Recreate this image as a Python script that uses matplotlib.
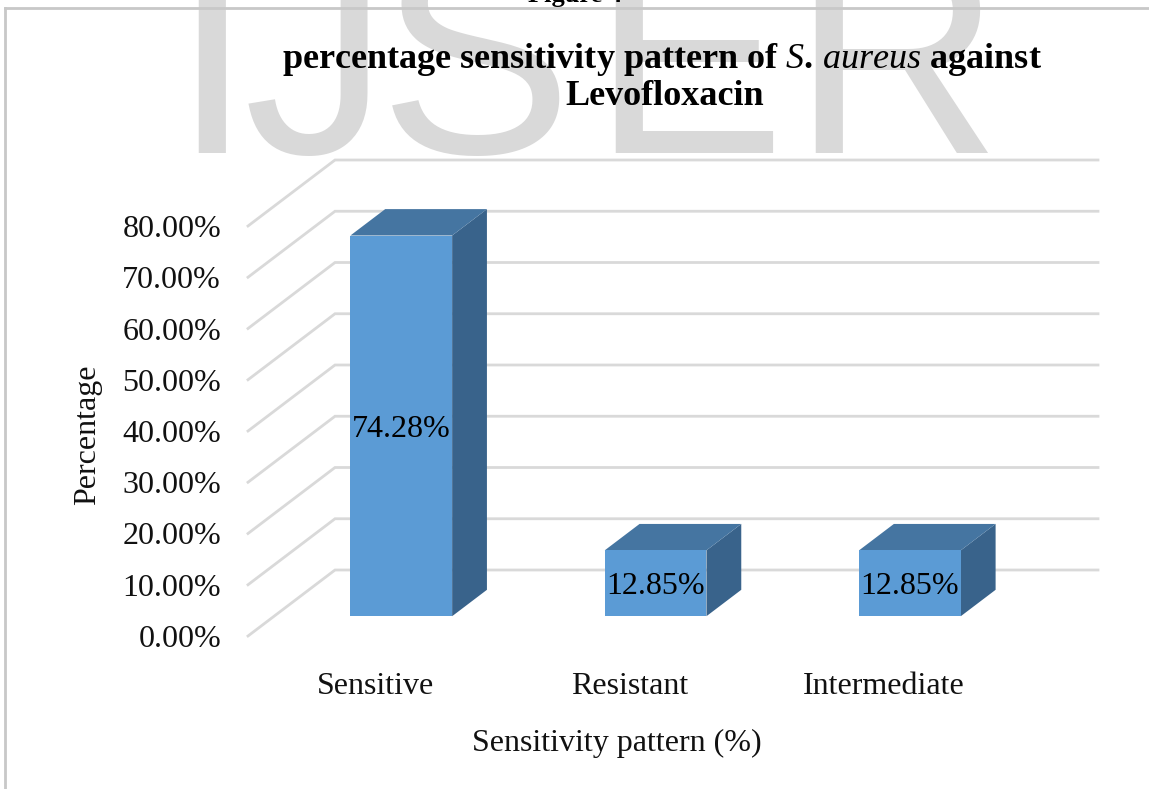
import matplotlib
matplotlib.use("Agg")
import matplotlib.pyplot as plt
from matplotlib.patches import Rectangle, Polygon
from matplotlib.lines import Line2D
from matplotlib.transforms import offset_copy, IdentityTransform

# ---- data ----
categories = ["Sensitive", "Resistant", "Intermediate"]
values = [74.28, 12.85, 12.85]
value_labels = ["74.28%", "12.85%", "12.85%"]
y_ticks = [0, 10, 20, 30, 40, 50, 60, 70, 80]
y_tick_labels = ["0.00%", "10.00%", "20.00%", "30.00%", "40.00%",
                 "50.00%", "60.00%", "70.00%", "80.00%"]

plt.rcParams["font.family"] = ["Liberation Serif", "DejaVu Serif"]
plt.rcParams["mathtext.fontset"] = "custom"
plt.rcParams["mathtext.rm"] = "Liberation Serif:bold"
plt.rcParams["mathtext.it"] = "Liberation Serif:italic"

W, H = 1149, 789
fig = plt.figure(figsize=(W / 100, H / 100), dpi=100)
fig.patch.set_facecolor("white")

# plot area: front plane of the oblique 3-D box (pixel geometry)
left_px, right_px = 248, 1011
bottom_px, top_px = 636, 226
ax = fig.add_axes([left_px / W, 1 - bottom_px / H,
                   (right_px - left_px) / W, (bottom_px - top_px) / H])
ax.set_xlim(0, len(categories))
ax.set_ylim(0, 80)
ax.axis("off")

DEPTH_DX, DEPTH_DY = 87, 66   # depth vector of the box, in pixels


def depth_tf(d):
    """Data transform shifted back into the box by depth fraction d."""
    return offset_copy(ax.transData, fig=fig, x=DEPTH_DX * d, y=DEPTH_DY * d, units="dots")


grid_color = "#D9D9D9"
front, back = depth_tf(0.0), depth_tf(1.0)
for v in y_ticks:
    p0 = front.transform((0, v))
    p1 = back.transform((0, v))
    p2 = back.transform((len(categories), v))
    ax.add_line(Line2D([p0[0], p1[0], p2[0]], [p0[1], p1[1], p2[1]],
                       transform=IdentityTransform(), color=grid_color,
                       lw=2.0, zorder=1, solid_joinstyle="miter", clip_on=False))

# bars
face_c, top_c, side_c = "#5B9BD5", "#4575A1", "#39638B"
bar_w = 0.4
d_front, d_back = 0.3, 0.7
tf_f, tf_b = depth_tf(d_front), depth_tf(d_back)
for i, v in enumerate(values):
    x0, x1 = i + 0.5 - bar_w / 2, i + 0.5 + bar_w / 2
    side = [tf_f.transform((x1, 0)), tf_f.transform((x1, v)),
            tf_b.transform((x1, v)), tf_b.transform((x1, 0))]
    top = [tf_f.transform((x0, v)), tf_f.transform((x1, v)),
           tf_b.transform((x1, v)), tf_b.transform((x0, v))]
    ax.add_patch(Polygon(side, closed=True, transform=IdentityTransform(),
                         facecolor=side_c, edgecolor="none", zorder=3, clip_on=False))
    ax.add_patch(Polygon(top, closed=True, transform=IdentityTransform(),
                         facecolor=top_c, edgecolor="none", zorder=3, clip_on=False))
    ax.add_patch(Rectangle((x0, 0), bar_w, v, transform=tf_f,
                           facecolor=face_c, edgecolor="none", zorder=4, clip_on=False))
    ax.text(i + 0.5, v / 2, value_labels[i], transform=tf_f,
            ha="center", va="center_baseline", fontsize=23, color="black", zorder=5)

# y tick labels on the front edge of the side wall
tick_tf = offset_copy(ax.transData, fig=fig, x=-27, y=0, units="dots")
for v, lab in zip(y_ticks, y_tick_labels):
    ax.text(0, v, lab, transform=tick_tf, ha="right", va="center_baseline",
            fontsize=23, color="#111111")

# category labels under the floor
cat_tf = offset_copy(ax.transData, fig=fig, x=0, y=-58, units="dots")
for i, c in enumerate(categories):
    ax.text(i + 0.5, 0, c, transform=cat_tf, ha="center", va="baseline",
            fontsize=23, color="#111111")

# axis titles
fig.text(88 / W, 1 - 435 / H, "Percentage", rotation=90, ha="center", va="center",
         fontsize=23, color="#111111")
fig.text(617 / W, 1 - 751 / H, "Sensitivity pattern (%)", ha="center", va="baseline",
         fontsize=23, color="#111111")

# chart title
fig.text(662 / W, 1 - 68 / H,
         r"percentage sensitivity pattern of $\mathit{S.\,aureus}$ against",
         ha="center", va="baseline", fontsize=26, fontweight="bold", color="black", zorder=5)
fig.text(665 / W, 1 - 105 / H, "Levofloxacin",
         ha="center", va="baseline", fontsize=26, fontweight="bold", color="black", zorder=5)

# caption fragment above the frame
fig.text(575 / W, 1 - 2 / H, "Figure 4", ha="center", va="baseline",
         fontsize=19, fontweight="bold", color="black", zorder=5)

# frame
fig.add_artist(Line2D([5 / W, 5 / W], [0, 1 - 8 / H], transform=fig.transFigure,
                      color="#C8C8C8", lw=2))
fig.add_artist(Line2D([5 / W, 1], [1 - 8 / H, 1 - 8 / H], transform=fig.transFigure,
                      color="#C8C8C8", lw=2))

# publisher watermark
for ch, cx in zip("IJSER", [212, 316, 476, 688, 896]):
    fig.text(cx / W, 1 - 153 / H, ch, ha="center", va="baseline", fontsize=209,
             family="Liberation Sans", color="#D9D9D9", zorder=-1)

fig.savefig("out.png", dpi=100, facecolor="white")
